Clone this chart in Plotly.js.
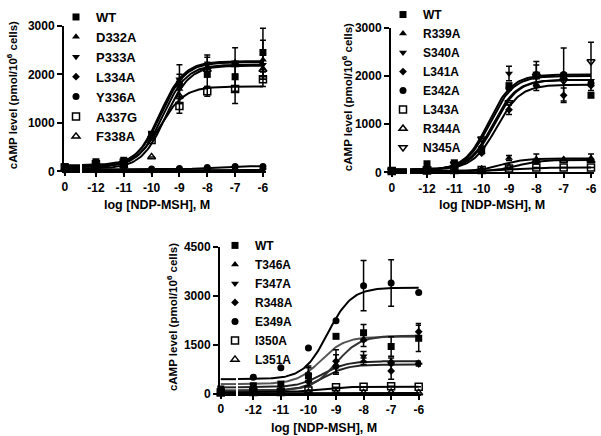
<!DOCTYPE html>
<html><head><meta charset="utf-8">
<script src="https://cdn.plot.ly/plotly-3.0.1.min.js"></script>
<style>html,body{margin:0;padding:0;background:#fff}#chart{width:601px;height:436px}</style>
</head><body><div id="chart"></div>
<script>
// x values: 0 = control (no ligand), others = log [NDP-MSH], M
const doses = [0, -12, -11, -10, -9, -8, -7, -6];
const xTicks = [-12, -11, -10, -9, -8, -7, -6];

// ---------- Panel A ----------
const namesA = ['WT', 'D332A', 'P333A', 'L334A', 'Y336A', 'A337G', 'F338A'];
const symbolsA = ['square', 'triangle-up', 'triangle-down', 'diamond', 'circle', 'square-open', 'triangle-up-open'];
const A_WT    = [100, 200, 230, 750, 1800, 2000, 1950, 2450];
const A_D332A = [60, 100, 150, 700, 1700, 2150, 2250, 2300];
const A_P333A = [80, 120, 150, 800, 1900, 2200, 2250, 2200];
const A_L334A = [20, 20, 20, 20, 30, 40, 40, 50];
const A_Y336A = [40, 40, 40, 50, 60, 80, 100, 100];
const A_A337G = [80, 150, 180, 650, 1350, 1650, 1700, 1900];
const A_F338A = [50, 100, 120, 300, 1550, 2100, 2200, 2100];
const errA_WT    = [0, 0, 0, 50, 400, 250, 300, 500];
const errA_D332A = [0, 0, 0, 0, 300, 200, 300, 400];
const errA_P333A = [0, 0, 0, 0, 0, 200, 0, 300];
const errA_L334A = [0, 0, 0, 0, 0, 0, 0, 0];
const errA_Y336A = [0, 0, 0, 0, 0, 0, 0, 0];
const errA_A337G = [0, 0, 0, 0, 150, 100, 300, 150];
const errA_F338A = [0, 0, 0, 0, 0, 0, 0, 0];
const fitBottomA = [130, 90, 100, 20, 40, 110, 60];
const fitTopA    = [2250, 2200, 2270, 30, 110, 1750, 2180];
const fitEC50A   = [-9.65, -9.6, -9.7, -9, -8, -9.7, -9.5];

// ---------- Panel B ----------
const namesB = ['WT', 'R339A', 'S340A', 'L341A', 'E342A', 'L343A', 'R344A', 'N345A'];
const symbolsB = ['square', 'triangle-up', 'triangle-down', 'diamond', 'circle', 'square-open', 'triangle-up-open', 'triangle-down-open'];
const B_WT    = [40, 180, 200, 450, 1800, 2000, 2000, 1600];
const B_R339A = [20, 30, 40, 60, 300, 280, 280, 300];
const B_S340A = [40, 60, 150, 500, 2050, 2050, 2000, 1900];
const B_L341A = [30, 60, 100, 400, 1300, 1800, 1600, 1800];
const B_E342A = [30, 100, 150, 500, 1750, 2030, 2030, 1850];
const B_L343A = [30, 40, 50, 50, 80, 100, 100, 100];
const B_R344A = [20, 30, 40, 60, 100, 250, 250, 250];
const B_N345A = [40, 80, 180, 700, 1450, 2000, 1900, 2300];
const errB_WT    = [0, 0, 0, 0, 0, 300, 0, 0];
const errB_R339A = [0, 0, 0, 0, 50, 100, 0, 80];
const errB_S340A = [0, 0, 0, 0, 150, 0, 0, 0];
const errB_L341A = [0, 0, 0, 0, 100, 0, 150, 100];
const errB_E342A = [0, 0, 0, 0, 0, 200, 550, 0];
const errB_L343A = [0, 0, 0, 0, 0, 0, 0, 0];
const errB_R344A = [0, 0, 0, 0, 0, 0, 0, 0];
const errB_N345A = [0, 0, 0, 0, 0, 0, 0, 400];
const fitBottomB = [60, 20, 50, 60, 50, 30, 20, 60];
const fitTopB    = [1920, 290, 2000, 1820, 2030, 100, 260, 1920];
const fitEC50B   = [-9.55, -9.3, -9.7, -9.45, -9.75, -9, -8.7, -9.6];

// ---------- Panel C ----------
const namesC = ['WT', 'T346A', 'F347A', 'R348A', 'E349A', 'I350A', 'L351A'];
const symbolsC = ['square', 'triangle-up', 'triangle-down', 'diamond', 'circle', 'square-open', 'triangle-up-open'];
const C_WT    = [150, 250, 300, 550, 1760, 1870, 1450, 1700];
const C_T346A = [100, 150, 150, 400, 900, 1000, 1000, 950];
const C_F347A = [100, 120, 120, 350, 800, 1150, 900, 900];
const C_R348A = [60, 100, 120, 600, 1000, 1650, 700, 1900];
const C_E349A = [80, 510, 800, 1400, 2240, 3310, 3390, 3100];
const C_I350A = [40, 60, 60, 100, 200, 220, 230, 220];
const C_L351A = [20, 30, 30, 40, 30, 30, 40, 30];
const errC_WT    = [0, 0, 0, 300, 0, 250, 300, 400];
const errC_T346A = [0, 0, 0, 0, 300, 100, 100, 50];
const errC_F347A = [0, 0, 0, 0, 0, 150, 0, 50];
const errC_R348A = [0, 0, 0, 200, 350, 200, 250, 250];
const errC_E349A = [0, 0, 0, 0, 0, 770, 710, 0];
const errC_I350A = [0, 0, 0, 0, 0, 0, 0, 0];
const errC_L351A = [0, 0, 0, 0, 0, 0, 0, 0];
const fitBottomC = [300, 200, 100, 100, 450, 50, 20];
const fitTopC    = [1750, 1000, 900, 1780, 3250, 220, 30];
const fitEC50C   = [-9.55, -9.5, -9.45, -9.0, -9.3, -9.7, -9];
const curveColorC = ['#555', '#222', '#222', '#333', '#000', '#000', '#000'];

const W = 601, H = 436;
const fx = p => p / W;
const fy = p => 1 - p / H;
const FONT = 'Liberation Sans, Arial, sans-serif';

const panels = [
  {names: namesA, symbols: symbolsA, vals: [A_WT, A_D332A, A_P333A, A_L334A, A_Y336A, A_A337G, A_F338A],
   errs: [errA_WT, errA_D332A, errA_P333A, errA_L334A, errA_Y336A, errA_A337G, errA_F338A],
   fb: fitBottomA, ft: fitTopA, fe: fitEC50A, colors: null,
   xz: 'x', xm: 'x2', y: 'y', leg: 'legend', left: -12.5, right: -5.89},
  {names: namesB, symbols: symbolsB, vals: [B_WT, B_R339A, B_S340A, B_L341A, B_E342A, B_L343A, B_R344A, B_N345A],
   errs: [errB_WT, errB_R339A, errB_S340A, errB_L341A, errB_E342A, errB_L343A, errB_R344A, errB_N345A],
   fb: fitBottomB, ft: fitTopB, fe: fitEC50B, colors: null,
   xz: 'x3', xm: 'x4', y: 'y2', leg: 'legend2', left: -12.622, right: -5.89},
  {names: namesC, symbols: symbolsC, vals: [C_WT, C_T346A, C_F347A, C_R348A, C_E349A, C_I350A, C_L351A],
   errs: [errC_WT, errC_T346A, errC_F347A, errC_R348A, errC_E349A, errC_I350A, errC_L351A],
   fb: fitBottomC, ft: fitTopC, fe: fitEC50C, colors: curveColorC,
   xz: 'x5', xm: 'x6', y: 'y3', leg: 'legend3', left: -12.555, right: -5.917}
];

const traces = [];
panels.forEach(P => {
  // fitted curves (four-parameter logistic from read-off fit parameters)
  P.names.forEach((n, i) => {
    const cx = [], cy = [];
    for (let x = P.left; x <= -6.0001 + 0.05; x += 0.05) {
      const xv = Math.min(x, -6);
      cx.push(xv);
      cy.push(P.fb[i] + (P.ft[i] - P.fb[i]) / (1 + Math.pow(10, P.fe[i] - xv)));
    }
    const col = P.colors ? P.colors[i] : '#000';
    traces.push({x: cx, y: cy, xaxis: P.xm, yaxis: P.y, mode: 'lines', showlegend: false,
      line: {color: col, width: 2}, hoverinfo: 'skip', cliponaxis: false});
    traces.push({x: [0, 1], y: [P.fb[i], P.fb[i]], xaxis: P.xz, yaxis: P.y, mode: 'lines', showlegend: false,
      line: {color: col, width: 2}, hoverinfo: 'skip', cliponaxis: false});
  });
  // data points
  P.names.forEach((n, i) => {
    const open = P.symbols[i].indexOf('open') >= 0;
    const sz = P.symbols[i] === 'diamond' ? 6 : 7;
    const mk = open
      ? {symbol: P.symbols[i], size: sz, color: '#000', line: {color: '#000', width: 1.5}}
      : {symbol: P.symbols[i], size: sz, color: '#000', line: {color: '#000', width: 0}};
    const errObj = arr => ({type: 'data', array: arr, visible: true, color: '#000', thickness: 1.5, width: 3});
    traces.push({x: doses.slice(1), y: P.vals[i].slice(1), xaxis: P.xm, yaxis: P.y, mode: 'markers',
      name: n, legend: P.leg, showlegend: true, marker: mk, error_y: errObj(P.errs[i].slice(1)), cliponaxis: false});
    traces.push({x: doses.slice(0, 1), y: P.vals[i].slice(0, 1), xaxis: P.xz, yaxis: P.y, mode: 'markers',
      name: n, showlegend: false, marker: mk, cliponaxis: false});
  });
});

const tickfont = {family: FONT, size: 12, color: '#000', weight: 'bold'};
function xZero(px0, px1, ya) {
  return {domain: [fx(px0), fx(px1)], range: [-0.05, 1], anchor: ya, showline: true, linewidth: 2,
    linecolor: '#000', ticks: 'outside', ticklen: 3, tickwidth: 2, tickcolor: '#000',
    tickvals: [0], ticktext: ['0'], showgrid: false, zeroline: false, tickfont: tickfont, fixedrange: true};
}
function xMain(px0, px1, ya, l, r) {
  return {domain: [fx(px0), fx(px1)], range: [l, r], anchor: ya, showline: true, linewidth: 2,
    linecolor: '#000', ticks: 'outside', ticklen: 4, tickwidth: 2, tickcolor: '#000',
    tickvals: xTicks, ticktext: xTicks.map(String), showgrid: false, zeroline: false, tickfont: tickfont};
}
function yAx(top, bot, xa, max, tv) {
  return {domain: [fy(bot), fy(top)], range: [0, max], anchor: xa, showline: true, linewidth: 2,
    linecolor: '#000', ticks: 'outside', ticklen: 5, tickwidth: 2, tickcolor: '#000',
    tickvals: tv, ticktext: tv.map(String), showgrid: false, zeroline: false, tickfont: tickfont};
}
function leg(pxX, pxY, size) {
  return {x: fx(pxX), y: fy(pxY), xanchor: 'left', yanchor: 'top', bgcolor: 'rgba(0,0,0,0)',
    font: {family: FONT, size: size, color: '#000', weight: 'bold'}, itemwidth: 30, tracegroupgap: 0,
    traceorder: 'normal', borderwidth: 0};
}

const ytitle = 'cAMP level (pmol/10<sup>6</sup> cells)';
const xtitle = 'log [NDP-MSH], M';
const titleFont = {family: FONT, size: 12, color: '#000', weight: 'bold'};
const ann = (t, x, y, ang, fs) => ({text: t, x: fx(x), y: fy(y), xref: 'paper', yref: 'paper', showarrow: false,
  textangle: ang, xanchor: 'center', yanchor: 'middle', font: Object.assign({}, titleFont, {size: fs})});

const layout = {
  width: W, height: H, margin: {l: 0, r: 0, t: 0, b: 0}, paper_bgcolor: '#fff', plot_bgcolor: 'rgba(0,0,0,0)',
  font: {family: FONT, color: '#000'},
  xaxis: xZero(64, 80, 'y'), xaxis2: xMain(82, 266, 'y', -12.5, -5.89),
  yaxis: yAx(22, 169, 'x', 3000, [0, 1000, 2000, 3000]),
  xaxis3: xZero(391, 407, 'y2'), xaxis4: xMain(410, 594, 'y2', -12.622, -5.89),
  yaxis2: yAx(24, 170, 'x3', 3000, [0, 1000, 2000, 3000]),
  xaxis5: xZero(220, 236, 'y3'), xaxis6: xMain(238, 421, 'y3', -12.555, -5.917),
  yaxis3: yAx(245, 393.5, 'x5', 4500, [0, 1500, 3000, 4500]),
  legend: leg(56, -2, 13), legend2: leg(383, -4, 12), legend3: leg(215, 229, 12),
  annotations: [
    ann(ytitle, 12, 92, -90, 11.5), ann(xtitle, 157, 203, 0, 12.5),
    ann(ytitle, 347, 94, -90, 11.5), ann(xtitle, 492, 203, 0, 12.5),
    ann(ytitle, 172, 316, -90, 11.5), ann(xtitle, 324, 428, 0, 12.5)
  ]
};
Plotly.newPlot('chart', traces, layout, {staticPlot: true, displayModeBar: false});
</script></body></html>
